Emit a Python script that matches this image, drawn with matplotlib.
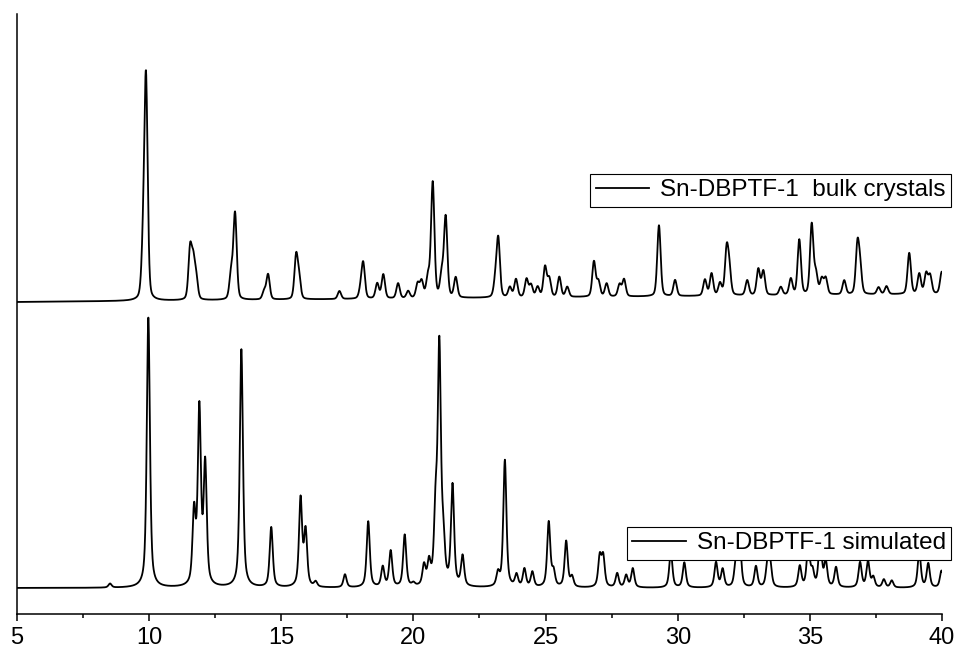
import numpy as np
import matplotlib
matplotlib.use('Agg')
import matplotlib.pyplot as plt

plt.rcParams['font.family'] = ['Liberation Sans', 'DejaVu Sans']

# ---------------- DATA ----------------
# peak positions (2theta) and heights above the baseline, plot units
bulk_pos = [9.77, 9.88, 11.55, 11.67, 11.78, 13.10, 13.25, 14.35, 14.50, 15.56,
            15.67, 17.20, 18.00, 18.10, 18.63, 18.86, 19.42, 19.80, 20.16, 20.31,
            20.55, 20.73, 21.07, 21.22, 21.60, 23.10, 23.21, 23.65, 23.88, 24.28,
            24.45, 24.70, 24.98, 25.14, 25.52, 25.82, 26.83, 27.00, 27.31, 27.80,
            27.97, 29.29, 29.90, 31.03, 31.28, 31.60, 31.85, 31.95, 32.63, 33.05,
            33.24, 33.90, 34.28, 34.60, 35.07, 35.23, 35.45, 35.60, 36.30, 36.80,
            36.90, 37.60, 37.90, 38.76, 39.14, 39.40, 39.55, 39.99]
bulk_height = [42, 220, 50, 35, 20, 25, 86, 8, 25, 42,
               20, 8, 8, 35, 15, 24, 15, 7, 14, 16,
               20, 115, 22, 80, 20, 15, 58, 10, 18, 18,
               12, 10, 30, 18, 20, 10, 35, 15, 13, 12,
               17, 71, 16, 16, 22, 12, 44, 25, 15, 26,
               24, 8, 16, 55, 70, 20, 15, 16, 14, 48,
               25, 7, 8, 41, 20, 20, 18, 22]
bulk_base = [312, 320]   # baseline at 5 and at 40

sim_pos = [8.52, 9.97, 11.70, 11.90, 12.12, 13.49, 14.62, 15.73, 15.92, 16.30,
           17.41, 18.29, 18.84, 19.14, 19.67, 20.00, 20.40, 20.59, 20.84, 20.98,
           21.13, 21.48, 21.86, 23.20, 23.46, 23.90, 24.20, 24.50, 25.12, 25.30,
           25.78, 26.00, 27.05, 27.18, 27.71, 28.05, 28.30, 29.74, 30.25, 31.45,
           31.70, 32.20, 32.35, 32.96, 33.40, 33.50, 34.62, 34.94, 35.10, 35.39,
           35.60, 35.99, 36.90, 37.20, 37.40, 37.80, 38.10, 39.14, 39.48, 39.98]
sim_height = [4, 270, 72, 175, 120, 238, 60, 88, 55, 5,
              13, 66, 20, 36, 52, 3, 20, 22, 70, 235,
              40, 100, 30, 13, 127, 12, 18, 15, 65, 15,
              46, 10, 30, 30, 14, 12, 19, 36, 25, 25,
              18, 25, 42, 21, 25, 22, 21, 42, 15, 50,
              25, 20, 25, 26, 10, 8, 7, 36, 24, 17]
sim_base = 26

legend_bulk = 'Sn-DBPTF-1  bulk crystals'
legend_sim = 'Sn-DBPTF-1 simulated'


def pattern(x, pos, height, fwhm, eta):
    y = np.zeros_like(x)
    for p, h in zip(pos, height):
        d = (x - p) / fwhm
        lor = 1.0 / (1.0 + 4.0 * d ** 2)
        gau = np.exp(-4.0 * np.log(2) * d ** 2)
        y += h * (eta * lor + (1 - eta) * gau)
    return y


tt = np.linspace(5, 40, 3501)
bulk = pattern(tt, bulk_pos, bulk_height, 0.15, 0.3) + np.interp(tt, [5, 40], bulk_base)
sim = pattern(tt, sim_pos, sim_height, 0.14, 0.6) + sim_base

# ---------------- PLOT ----------------
fig = plt.figure(figsize=(9.62, 6.52), dpi=100)
ax = fig.add_axes([17 / 962, 38 / 652, 925 / 962, 600 / 652])

l1, = ax.plot(tt, bulk, color='black', lw=1.3)
l2, = ax.plot(tt, sim, color='black', lw=1.3)

ax.set_xlim(5, 40)
ax.set_ylim(0, 600)
ax.spines['top'].set_visible(False)
ax.spines['right'].set_visible(False)
ax.spines['left'].set_linewidth(1.1)
ax.spines['bottom'].set_linewidth(1.1)
ax.set_yticks([])
ax.set_xticks([5, 10, 15, 20, 25, 30, 35, 40])
ax.set_xticks(np.arange(7.5, 40, 5), minor=True)
ax.tick_params(axis='x', which='major', direction='out', length=5, width=1.1,
               labelsize=17, pad=4)
ax.tick_params(axis='x', which='minor', direction='out', length=3, width=1.1)

leg_kw = dict(loc='upper right', bbox_transform=fig.transFigure, fontsize=17.5,
              frameon=True, fancybox=False, edgecolor='black', framealpha=1,
              borderpad=0.22, handlelength=2.2, handletextpad=0.45, borderaxespad=0)
leg1 = ax.legend([l1], [legend_bulk], bbox_to_anchor=(951 / 962, 1 - 174 / 652), **leg_kw)
leg1.get_frame().set_linewidth(0.8)
ax.add_artist(leg1)
leg2 = ax.legend([l2], [legend_sim], bbox_to_anchor=(951 / 962, 1 - 527 / 652), **leg_kw)
leg2.get_frame().set_linewidth(0.8)

fig.savefig('out.png', dpi=100)
